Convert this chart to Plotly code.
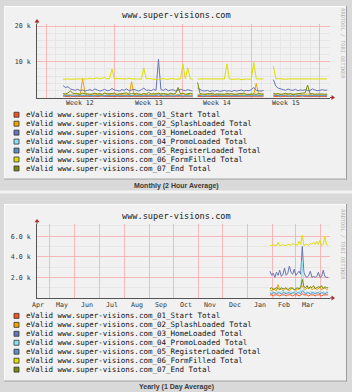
import plotly.graph_objects as go

W, H = 352, 392


def px(x):
    return x / W


def py(y):
    return 1 - y / H


TITLE = "www.super-visions.com"
SERIES = [
    "eValid www.super-visions.com_01_Start Total",
    "eValid www.super-visions.com_02_SplashLoaded Total",
    "eValid www.super-visions.com_03_HomeLoaded Total",
    "eValid www.super-visions.com_04_PromoLoaded Total",
    "eValid www.super-visions.com_05_RegisterLoaded Total",
    "eValid www.super-visions.com_06_FormFilled Total",
    "eValid www.super-visions.com_07_End Total",
]
COLORS = ["#ee5522", "#f0a400", "#6874b4", "#8ee0f0", "#5a90c0", "#dede00", "#7a8a10"]
CAPTIONS = ["Monthly (2 Hour Average)", "Yearly (1 Day Average)"]
WATERMARK = "RRDTOOL / TOBI OETIKER"

# ---------------- Monthly panel (values in thousands, days since start of week 12)
MONTH_SEG_START = [1.75, 15.5, 23.25]
MONTH_STEP = 0.25
WEEK_LINES = [0, 7, 14, 21, 28]
WEEK_LABEL_POS = [3.5, 10.5, 17.5, 24.5]
WEEK_LABELS = ["Week 12", "Week 13", "Week 14", "Week 15"]
M_YTICKS = [10, 20]
M_YTEXT = ["10 k", "20 k"]

M01 = [
    [0.4, 0.3, 0.3, 0.2, 0.3, 0.4, 0.3, 0.3, 0.2, 0.3, 0.3, 0.4, 0.3, 0.2, 0.3, 0.3, 0.4, 0.3, 0.3, 0.2,
     0.3, 0.3, 0.4, 0.3, 0.2, 0.3, 0.3, 0.3, 0.4, 0.3, 0.2, 0.3, 0.3, 0.4, 0.3, 0.3, 0.2, 0.3, 0.3, 0.4,
     0.3, 0.2, 0.3, 0.3, 0.3, 0.4, 0.3, 0.2, 0.3, 0.3, 0.4, 0.3, 0.3, 0.2],
    [0.3, 0.3, 0.4, 0.3, 0.2, 0.3, 0.3, 0.4, 0.3, 0.3, 0.2, 0.3, 0.3, 0.4, 0.3, 0.3, 0.2, 0.3, 0.4, 0.3,
     0.3, 0.2, 0.3, 0.3, 0.4, 0.3, 0.3, 0.2],
    [0.3, 0.4, 0.3, 0.3, 0.2, 0.3, 0.3, 0.4, 0.3, 0.2, 0.3, 0.3, 0.4, 0.3, 0.3, 0.2, 0.3, 0.4, 0.3, 0.3,
     0.2, 0.3, 0.3],
]
M02 = [
    [1.0, 0.8, 0.9, 0.7, 0.8, 1.2, 0.9, 0.8, 5.3, 0.9, 0.8, 0.7, 0.9, 1.0, 0.8, 0.7, 0.8, 1.1, 0.9, 0.8,
     0.7, 0.9, 0.8, 1.0, 0.8, 0.7, 0.9, 0.8, 4.4, 0.8, 0.9, 0.7, 0.8, 1.0, 0.8, 0.9, 0.7, 0.8, 1.2, 0.9,
     0.8, 0.7, 0.9, 0.8, 1.0, 0.8, 0.7, 0.9, 0.8, 1.3, 0.8, 0.9, 0.7, 0.8],
    [0.9, 0.8, 0.7, 0.9, 0.8, 1.0, 0.8, 0.7, 0.9, 0.8, 0.7, 0.9, 0.8, 0.8, 0.7, 0.9, 0.8, 1.0, 0.8, 0.7,
     0.9, 0.8, 0.8, 0.9, 3.9, 0.8, 0.7, 0.9],
    [0.9, 0.8, 1.0, 0.8, 0.7, 0.9, 0.8, 0.7, 0.9, 0.8, 1.1, 0.8, 0.7, 0.9, 1.0, 0.8, 0.9, 0.7, 0.8, 0.9,
     0.8, 0.7, 0.8],
]
M03 = [
    [3.3, 2.8, 3.0, 2.4, 2.2, 2.0, 2.3, 1.9, 2.1, 1.8, 2.0, 2.2, 1.9, 2.4, 2.1, 1.8, 2.0, 2.3, 1.9, 2.0,
     2.5, 2.1, 2.0, 1.8, 2.2, 2.0, 2.4, 1.9, 2.1, 2.3, 2.0, 1.8, 2.2, 2.6, 2.0, 2.1, 1.9, 2.3, 2.0, 10.7,
     2.2, 2.0, 2.4, 1.9, 2.1, 2.2, 1.8, 2.0, 2.3, 2.1, 1.9, 2.2, 2.0, 1.8],
    [2.6, 2.2, 1.9, 1.8, 2.0, 1.7, 1.9, 1.8, 2.0, 1.7, 1.9, 2.0, 1.8, 1.9, 1.7, 2.0, 1.8, 1.9, 2.1, 1.8,
     2.0, 1.9, 2.2, 2.8, 2.0, 1.9, 1.8, 2.0],
    [5.0, 3.2, 2.6, 2.3, 2.2, 2.0, 2.4, 2.1, 2.0, 2.3, 1.9, 2.1, 2.0, 2.2, 1.9, 2.0, 2.4, 2.1, 1.9, 2.0,
     2.2, 2.0, 2.1],
]
M04 = [
    [0.7, 0.6, 0.5, 0.6, 0.7, 0.5, 0.6, 0.6, 0.8, 0.5, 0.6, 0.7, 0.5, 0.6, 0.6, 0.5, 0.7, 0.6, 0.5, 0.6,
     0.6, 0.7, 0.5, 0.6, 0.6, 0.5, 0.6, 0.7, 0.6, 0.5, 0.6, 0.6, 0.7, 0.5, 0.6, 0.6, 0.5, 0.7, 0.6, 0.9,
     0.6, 0.5, 0.6, 0.7, 0.6, 0.5, 0.6, 0.6, 0.7, 0.5, 0.6, 0.6, 0.5, 0.6],
    [0.6, 0.5, 0.6, 0.7, 0.5, 0.6, 0.6, 0.5, 0.7, 0.6, 0.5, 0.6, 0.6, 0.7, 0.5, 0.6, 0.6, 0.5, 0.6, 0.7,
     0.6, 0.5, 0.6, 0.6, 0.8, 0.6, 0.5, 0.6],
    [0.7, 0.6, 0.5, 0.6, 0.6, 0.7, 0.5, 0.6, 0.6, 0.5, 0.7, 0.6, 0.6, 0.5, 0.6, 0.7, 0.6, 0.5, 0.6, 0.6,
     0.7, 0.5, 0.6],
]
M05 = [
    [0.5, 0.4, 0.5, 0.6, 0.4, 0.5, 0.5, 0.4, 0.6, 0.5, 0.4, 0.5, 0.5, 0.6, 0.4, 0.5, 0.5, 0.4, 0.5, 0.6,
     0.5, 0.4, 0.5, 0.5, 0.6, 0.4, 0.5, 0.5, 0.4, 0.5, 0.6, 0.5, 0.4, 0.5, 0.5, 0.6, 0.4, 0.5, 0.5, 0.7,
     0.5, 0.4, 0.5, 0.6, 0.5, 0.4, 0.5, 0.5, 0.6, 0.4, 0.5, 0.5, 0.4, 0.5],
    [0.5, 0.6, 0.4, 0.5, 0.5, 0.4, 0.6, 0.5, 0.5, 0.4, 0.5, 0.6, 0.5, 0.4, 0.5, 0.5, 0.6, 0.4, 0.5, 0.5,
     0.4, 0.6, 0.5, 0.5, 0.4, 0.5, 0.6, 0.5],
    [0.6, 0.5, 0.4, 0.5, 0.5, 0.6, 0.4, 0.5, 0.5, 0.4, 0.6, 0.5, 0.5, 0.4, 0.5, 0.6, 0.5, 0.4, 0.5, 0.5,
     0.6, 0.4, 0.5],
]
M06 = [
    [5.1, 5.2, 5.2, 5.1, 5.2, 5.3, 5.2, 5.2, 5.1, 5.2, 5.2, 5.4, 5.2, 5.3, 5.5, 5.2, 5.3, 5.6, 5.2, 5.3,
     8.0, 5.2, 5.3, 5.2, 5.1, 5.2, 5.2, 5.4, 5.2, 5.3, 5.2, 5.2, 5.1, 8.3, 5.2, 5.3, 5.2, 5.1, 5.2, 5.0,
     5.2, 5.3, 5.1, 5.2, 5.2, 5.3, 5.1, 5.2, 5.2, 9.3, 5.2, 8.3, 5.2, 5.1],
    [5.2, 5.2, 5.1, 5.2, 5.3, 5.2, 5.2, 5.1, 5.2, 5.3, 5.2, 5.2, 9.4, 5.2, 5.1, 5.2, 5.3, 5.2, 5.0, 5.2,
     5.2, 5.1, 5.2, 9.8, 5.2, 5.2, 5.1, 5.2],
    [8.8, 5.2, 5.3, 5.2, 5.2, 5.1, 5.2, 5.2, 5.3, 5.2, 5.1, 5.2, 5.2, 5.3, 5.2, 5.2, 5.1, 5.2, 5.3, 5.2,
     5.2, 5.3, 5.2],
]
M07 = [
    [1.1, 1.0, 1.3, 1.8, 1.2, 1.0, 1.1, 0.9, 1.2, 1.0, 1.1, 0.9, 1.0, 1.2, 1.0, 1.1, 0.9, 1.3, 1.0, 1.1,
     1.0, 1.2, 0.9, 1.0, 1.1, 1.0, 1.3, 0.9, 1.1, 1.0, 1.2, 1.0, 0.9, 1.1, 1.0, 1.4, 1.0, 1.1, 0.9, 1.2,
     1.0, 1.1, 1.0, 0.9, 1.2, 1.0, 1.1, 2.8, 1.0, 1.1, 0.9, 1.0, 1.2, 1.0],
    [4.2, 1.1, 1.0, 0.9, 1.1, 1.0, 1.2, 0.9, 1.0, 1.1, 1.0, 0.9, 1.2, 1.0, 1.1, 0.9, 1.0, 1.1, 1.0, 1.2,
     0.9, 1.0, 1.1, 1.0, 0.9, 1.1, 1.0, 1.0],
    [1.2, 1.0, 1.1, 0.9, 1.0, 1.2, 1.0, 1.1, 0.9, 1.0, 1.1, 1.0, 1.2, 1.3, 3.5, 1.0, 1.1, 0.9, 1.0, 1.1,
     1.0, 0.9, 1.0],
]
MONTHLY = [M01, M02, M03, M04, M05, M06, M07]

# ---------------- Yearly panel (values in thousands, days since 1 May)
YEAR_START = 273
YEAR_STEP = 2
MONTH_STARTS = [-30, 0, 31, 61, 92, 123, 153, 184, 214, 245, 276, 304, 335]
MONTH_NAMES = ["Apr", "May", "Jun", "Jul", "Aug", "Sep", "Oct", "Nov", "Dec", "Jan", "Feb", "Mar"]
Y_YTICKS = [2, 4, 6]
Y_YTEXT = ["2.0 k", "4.0 k", "6.0 k"]

Y01 = [0.3, 0.3, 0.2, 0.3, 0.3, 0.3, 0.2, 0.3, 0.3, 0.3, 0.2, 0.3, 0.3, 0.3, 0.2, 0.3, 0.3, 0.3, 0.2,
       0.3, 0.4, 0.3, 0.3, 0.3, 0.2, 0.3, 0.3, 0.3, 0.2, 0.3, 0.3, 0.3, 0.2, 0.3, 0.3, 0.3, 0.3]
Y02 = [0.8, 0.7, 0.9, 0.8, 0.7, 1.3, 0.8, 0.9, 0.7, 0.8, 0.9, 0.8, 0.7, 0.9, 1.0, 0.8, 0.7, 0.9, 0.8,
       1.1, 1.2, 0.9, 0.8, 1.0, 0.9, 1.1, 0.8, 0.9, 1.0, 0.8, 0.9, 1.1, 0.8, 0.9, 1.0, 0.8, 0.9]
Y03 = [2.6, 2.2, 2.4, 2.0, 2.5, 2.2, 2.7, 2.1, 2.3, 2.9, 2.2, 2.4, 3.1, 2.5, 2.3, 2.8, 2.2, 2.4, 2.6,
       2.3, 5.0, 2.5, 2.1, 2.0, 2.2, 2.6, 2.0, 2.1, 2.0, 2.1, 2.5, 2.0, 2.1, 2.7, 2.1, 2.0, 2.0]
Y04 = [0.6, 0.5, 0.6, 0.5, 0.6, 0.6, 0.5, 0.6, 0.7, 0.5, 0.6, 0.5, 0.6, 0.6, 0.5, 0.6, 0.7, 0.5, 0.6,
       0.6, 3.6, 0.6, 0.5, 0.6, 0.5, 0.6, 0.6, 0.5, 0.6, 0.5, 0.6, 0.6, 0.5, 0.6, 0.5, 0.6, 0.6]
Y05 = [0.5, 0.4, 0.5, 0.5, 0.4, 0.5, 0.5, 0.4, 0.5, 0.5, 0.4, 0.5, 0.5, 0.4, 0.5, 0.5, 0.4, 0.5, 0.5,
       0.4, 0.7, 0.5, 0.4, 0.5, 0.5, 0.4, 0.5, 0.5, 0.4, 0.5, 0.5, 0.4, 0.5, 0.5, 0.4, 0.5, 0.5]
Y06 = [5.1, 5.1, 5.2, 5.1, 5.1, 5.4, 5.1, 5.1, 5.2, 5.1, 5.1, 5.2, 5.2, 5.1, 5.3, 5.2, 5.2, 5.1, 5.5,
       5.2, 6.1, 5.1, 5.2, 5.2, 5.1, 5.3, 5.2, 5.4, 5.2, 5.5, 5.2, 5.6, 5.1, 5.2, 6.0, 5.2, 5.1]
Y07 = [0.9, 1.0, 0.8, 0.9, 1.0, 0.9, 0.8, 1.0, 0.9, 0.9, 1.0, 0.8, 0.9, 1.0, 0.9, 0.8, 0.9, 1.0, 0.9,
       1.0, 1.8, 1.1, 1.0, 1.2, 0.9, 1.1, 1.0, 1.2, 0.9, 1.0, 1.1, 1.0, 1.2, 0.9, 1.1, 1.0, 1.0]
YEARLY = [Y01, Y02, Y03, Y04, Y05, Y06, Y07]

MONO = "DejaVu Sans Mono"
PINK = "#f6b8b8"
MINOR = "#e6e6e6"

fig = go.Figure()

# monthly traces
for color, segs in zip(COLORS, MONTHLY):
    xs, ys = [], []
    for s0, seg in zip(MONTH_SEG_START, segs):
        if xs:
            xs.append(None)
            ys.append(None)
        xs += [s0 + MONTH_STEP * k for k in range(len(seg))]
        ys += seg
    fig.add_trace(go.Scatter(x=xs, y=ys, mode="lines", line=dict(color=color, width=1),
                             xaxis="x", yaxis="y", showlegend=False, hoverinfo="skip"))

# yearly traces
for color, vals in zip(COLORS, YEARLY):
    xs = [YEAR_START + YEAR_STEP * k for k in range(len(vals))]
    fig.add_trace(go.Scatter(x=xs, y=vals, mode="lines", line=dict(color=color, width=1),
                             xaxis="x2", yaxis="y2", showlegend=False, hoverinfo="skip"))

P1 = dict(left=37, right=330, top=22, bottom=96)
P2 = dict(left=37, right=330, top=223, bottom=297.5)

common_x = dict(showticklabels=False, ticks="", zeroline=False, showline=True,
                linecolor="#555555", linewidth=1, gridwidth=1)
common_y = dict(ticks="", zeroline=False, showline=True, linecolor="#555555", linewidth=1,
                gridcolor=PINK, gridwidth=1, tickfont=dict(family=MONO, size=6.6, color="#333333"),
                ticklabelstandoff=4)

fig.update_layout(
    width=W, height=H, margin=dict(l=0, r=0, t=0, b=0),
    paper_bgcolor="#d9d9d9", plot_bgcolor="#ffffff",
    xaxis=dict(domain=[px(P1["left"]), px(P1["right"])], range=[-0.92, 29.04],
               tickmode="array", tickvals=WEEK_LINES, showgrid=True, gridcolor=PINK,
               minor=dict(tickmode="linear", tick0=0, dtick=1, showgrid=True, gridcolor=MINOR, gridwidth=1),
               anchor="y", **common_x),
    yaxis=dict(domain=[py(P1["bottom"]), py(P1["top"])], range=[0, 20.6],
               tickmode="array", tickvals=M_YTICKS, ticktext=M_YTEXT, showgrid=True,
               minor=dict(tickmode="linear", tick0=0, dtick=2, showgrid=True, gridcolor=MINOR, gridwidth=1),
               anchor="x", **common_y),
    xaxis2=dict(domain=[px(P2["left"]), px(P2["right"])], range=[-16.1, 347.4],
                tickmode="array", tickvals=MONTH_STARTS[1:], showgrid=True, gridcolor=PINK,
                anchor="y2", **common_x),
    yaxis2=dict(domain=[py(P2["bottom"]), py(P2["top"])], range=[0, 7.2],
                tickmode="array", tickvals=Y_YTICKS, ticktext=Y_YTEXT, showgrid=True,
                minor=dict(tickmode="linear", tick0=0, dtick=1, showgrid=True, gridcolor=MINOR, gridwidth=1),
                anchor="x2", **common_y),
)

shapes = []
annotations = []


def rect(x0, y0, x1, y1, fill, line=None):
    shapes.append(dict(type="rect", xref="paper", yref="paper", x0=px(x0), x1=px(x1), y0=py(y1), y1=py(y0),
                       fillcolor=fill, line=dict(width=0 if line is None else 0.8,
                                                 color=line or "rgba(0,0,0,0)"), layer="below"))


def hline(x0, x1, y, color):
    shapes.append(dict(type="line", xref="paper", yref="paper", x0=px(x0), x1=px(x1), y0=py(y), y1=py(y),
                       line=dict(color=color, width=1), layer="below"))


def vline(x, y0, y1, color):
    shapes.append(dict(type="line", xref="paper", yref="paper", x0=px(x), x1=px(x), y0=py(y0), y1=py(y1),
                       line=dict(color=color, width=1), layer="below"))


def text(x, y, s, size, color="#111111", family=MONO, anchor="center", angle=0):
    annotations.append(dict(xref="paper", yref="paper", x=px(x), y=py(y), text=s, showarrow=False,
                            xanchor=anchor, yanchor="middle", textangle=angle,
                            font=dict(family=family, size=size, color=color)))


# page decoration
rect(0, 189.5, 352, 192.5, "#f4f4f4")
panels = [(4, 4, 347, 178.5), (4, 203, 347, 381.5)]
for (x0, y0, x1, y1) in panels:
    rect(x0, y0, x1, y1, "#f1f1f1")
    hline(x0, x1, y0 + 0.5, "#fbfbfb")
    vline(x0 + 0.5, y0, y1, "#fbfbfb")
    hline(x0, x1, y1 - 0.5, "#9c9c9c")
    vline(x1 - 0.5, y0, y1, "#9c9c9c")

# arrows at axis ends
for P in (P1, P2):
    b, l, r, t = P["bottom"], P["left"], P["right"], P["top"]
    shapes.append(dict(type="line", xref="paper", yref="paper", x0=px(l), x1=px(l), y0=py(t), y1=py(t - 2.5),
                       line=dict(color="#555555", width=1)))
    shapes.append(dict(type="line", xref="paper", yref="paper", x0=px(r), x1=px(r + 2), y0=py(b), y1=py(b),
                       line=dict(color="#555555", width=1)))
    shapes.append(dict(type="path", xref="paper", yref="paper",
                       path=f"M {px(l-2.5)},{py(t-1.5)} L {px(l)},{py(t-5)} L {px(l+2.5)},{py(t-1.5)} Z",
                       fillcolor="#b02a2a", line=dict(width=0)))
    shapes.append(dict(type="path", xref="paper", yref="paper",
                       path=f"M {px(r+1.5)},{py(b-2.5)} L {px(r+5)},{py(b)} L {px(r+1.5)},{py(b+2.5)} Z",
                       fillcolor="#b02a2a", line=dict(width=0)))

# titles, watermark, captions
text(176, 13.5, TITLE, 8.6, "#222222")
text(176, 215, TITLE, 8.6, "#222222")
text(343.5, 42, WATERMARK, 5.3, "#b4b4b4", angle=90)
text(343.5, 244, WATERMARK, 5.3, "#b4b4b4", angle=90)
text(176, 184.5, "<b>" + CAPTIONS[0] + "</b>", 7, "#3a3a3a", family="Liberation Sans")
text(176, 387, "<b>" + CAPTIONS[1] + "</b>", 7, "#3a3a3a", family="Liberation Sans")

# x tick labels
for pos, lab in zip(WEEK_LABEL_POS, WEEK_LABELS):
    annotations.append(dict(xref="x", yref="paper", x=pos, y=py(102), text=lab, showarrow=False,
                            xanchor="center", yanchor="middle",
                            font=dict(family=MONO, size=6.6, color="#333333")))
for i, lab in enumerate(MONTH_NAMES):
    mid = (MONTH_STARTS[i] + MONTH_STARTS[i + 1]) / 2
    annotations.append(dict(xref="x2", yref="paper", x=mid, y=py(305), text=lab, showarrow=False,
                            xanchor="center", yanchor="middle",
                            font=dict(family=MONO, size=6.6, color="#333333")))

# legends
for top in (113.3, 315.5):
    for i, (name, color) in enumerate(zip(SERIES, COLORS)):
        yc = top + 9 * i
        shapes.append(dict(type="rect", xref="paper", yref="paper", x0=px(14), x1=px(19),
                           y0=py(yc + 2.5), y1=py(yc - 2.5), fillcolor=color,
                           line=dict(color="#333333", width=0.8)))
        text(23.5, yc, name, 7.5, "#111111", anchor="left")

fig.update_layout(shapes=shapes, annotations=annotations)
fig.write_html("out.html")
